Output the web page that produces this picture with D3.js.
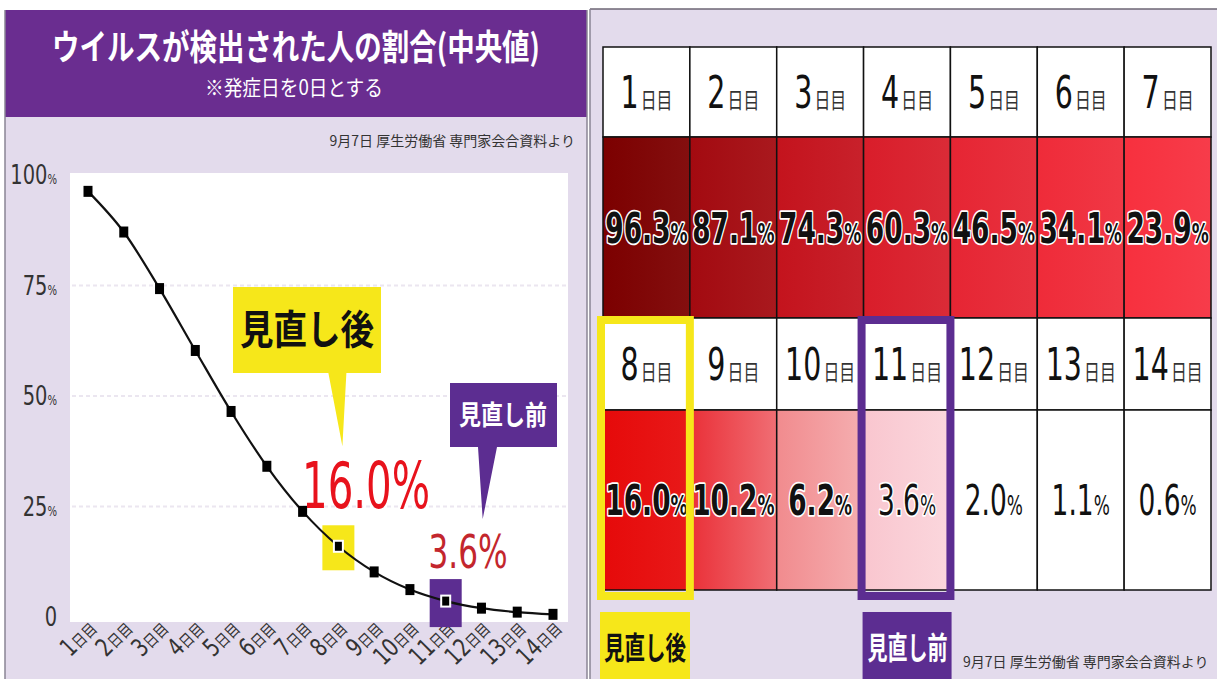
<!DOCTYPE html>
<html>
<head>
<meta charset="utf-8">
<script src="https://cdn.jsdelivr.net/npm/d3@7"></script>
<style>
body { margin: 0; background: #fff; }
svg { display: block; }
</style>
</head>
<body>
<div id="chart"></div>
<script>
// data
const days = [1, 2, 3, 4, 5, 6, 7, 8, 9, 10, 11, 12, 13, 14]
const rates = [96.3, 87.1, 74.3, 60.3, 46.5, 34.1, 23.9, 16.0, 10.2, 6.2, 3.6, 2.0, 1.1, 0.6]
const yTicks = [0, 25, 50, 75, 100]
const yTickLabels = ["0", "25", "50", "75", "100"]
const afterDay = 8
const beforeDay = 11
const afterLabel = "見直し後"
const beforeLabel = "見直し前"
const titleText = "ウイルスが検出された人の割合(中央値)"
const subtitleText = "※発症日を0日とする"
const sourceText = "9月7日 厚生労働省 専門家会合資料より"

// cell colour ramp (value -> red)
const colorStops = [0, 2.0, 3.6, 6.2, 10.2, 16.0, 23.9, 34.1, 46.5, 60.3, 74.3, 87.1, 96.3]
const colorRamp = ["#ffffff", "#ffffff", "#f9c6cf", "#f18b8e", "#ea3038", "#e60a0a", "#f7303e", "#ef2b39", "#e62533", "#d91d2a", "#c4131d", "#a30a10", "#7c0000"]

const W = 1217, H = 679
const lavender = "#e3dbec"
const purple = "#6a2d90"
const yellow = "#f6e71a"
const narrow = "'DejaVu Sans Condensed', 'Liberation Sans', sans-serif"
const jp = "'Noto Sans CJK JP', sans-serif"

const svg = d3.select("#chart").append("svg")
    .attr("width", W)
    .attr("height", H)

svg.append("rect").attr("width", W).attr("height", H).attr("fill", "#fff")

// ---------- left panel: line chart ----------
const left = svg.append("g")

left.append("rect").attr("x", 5).attr("y", 10).attr("width", 582).attr("height", H - 10).attr("fill", lavender)
left.append("rect").attr("x", 5).attr("y", 10).attr("width", 582).attr("height", 107).attr("fill", purple)
left.append("line").attr("x1", 5).attr("x2", 5).attr("y1", 10).attr("y2", H).attr("stroke", "#8a8494").attr("stroke-width", 1.5)
left.append("line").attr("x1", 587).attr("x2", 587).attr("y1", 10).attr("y2", H).attr("stroke", "#8a8494").attr("stroke-width", 1.5)

left.append("text").attr("x", 296).attr("y", 60)
    .attr("text-anchor", "middle").attr("fill", "#fff")
    .attr("textLength", 488).attr("lengthAdjust", "spacingAndGlyphs")
    .style("font-family", jp).style("font-weight", "bold").style("font-size", "35px")
    .text(titleText)
left.append("text").attr("x", 294).attr("y", 95)
    .attr("text-anchor", "middle").attr("fill", "#fff")
    .attr("textLength", 178).attr("lengthAdjust", "spacingAndGlyphs")
    .style("font-family", jp).style("font-size", "21px")
    .text(subtitleText)
left.append("text").attr("x", 575).attr("y", 146)
    .attr("text-anchor", "end").attr("fill", "#333")
    .style("font-family", jp).style("font-size", "14px")
    .text(sourceText)

var x = d3.scalePoint().domain(days).range([88, 553])
var y = d3.scaleLinear().domain([0, 100]).range([617, 175])

left.append("rect").attr("x", 70).attr("y", 173).attr("width", 498).attr("height", 449).attr("fill", "#fff")

left.selectAll(".grid")
    .data(yTicks.filter(t => t > 0 && t < 100))
    .enter().append("line")
    .attr("x1", 72).attr("x2", 566)
    .attr("y1", d => y(d)).attr("y2", d => y(d))
    .attr("stroke", "#ebe6f0").attr("stroke-width", 2).attr("stroke-dasharray", "4,3")

// y tick labels (condensed by a horizontal scale)
const yLab = left.selectAll(".ylab")
    .data(yTicks)
    .enter().append("text")
    .attr("transform", d => "translate(57," + (y(d) + 9) + ") scale(0.8,1)")
    .attr("text-anchor", "end").attr("fill", "#333")
    .style("font-family", narrow)
yLab.append("tspan").style("font-size", "27px").text((d, i) => yTickLabels[i])
yLab.append("tspan").style("font-size", "14px").text(d => d == 0 ? "" : "%")

// x tick labels (rotated)
const xLab = left.selectAll(".xlab")
    .data(days)
    .enter().append("text")
    .attr("transform", d => "translate(" + (x(d) + 10) + ",630) rotate(-45) scale(0.85,1)")
    .attr("text-anchor", "end").attr("fill", "#333")
xLab.append("tspan").style("font-family", narrow).style("font-size", "25px").text(d => d)
xLab.append("tspan").style("font-family", jp).style("font-size", "16px").text("日目")

// highlight squares behind markers
const iAfter = days.indexOf(afterDay), iBefore = days.indexOf(beforeDay)
left.append("rect")
    .attr("x", x(afterDay) - 16).attr("y", y(rates[iAfter]) - 21)
    .attr("width", 32).attr("height", 45).attr("fill", yellow)
left.append("rect")
    .attr("x", x(beforeDay) - 16).attr("y", y(rates[iBefore]) - 22)
    .attr("width", 32).attr("height", 48).attr("fill", "#5c2d91")

// curve
const line = d3.line()
    .x((d, i) => x(days[i]))
    .y(d => y(d))
    .curve(d3.curveMonotoneX)
left.append("path").datum(rates)
    .attr("d", line).attr("fill", "none")
    .attr("stroke", "#111").attr("stroke-width", 2.2)

left.selectAll(".marker")
    .data(rates)
    .enter().append("rect")
    .attr("x", (d, i) => x(days[i]) - 4.5)
    .attr("y", d => y(d) - 5.5)
    .attr("width", 9).attr("height", 11)
    .attr("fill", "#000")
    .attr("stroke", (d, i) => (days[i] == afterDay || days[i] == beforeDay) ? "#fff" : "none")
    .attr("stroke-width", 2)

// callout: after revision
const ax = x(afterDay), ay = y(rates[iAfter])
left.append("path")
    .attr("d", "M233,287 H381 V373 H" + (ax + 8) + " L" + (ax + 4) + "," + (ay - 100) + " L" + (ax - 10) + ",373 H233 Z")
    .attr("fill", yellow)
left.append("text").attr("x", 307).attr("y", 344)
    .attr("text-anchor", "middle").attr("fill", "#111")
    .attr("textLength", 134).attr("lengthAdjust", "spacingAndGlyphs")
    .style("font-family", jp).style("font-weight", "bold").style("font-size", "40px")
    .text(afterLabel)
left.append("text").attr("x", 366).attr("y", 508)
    .attr("text-anchor", "middle").attr("fill", "#e8121c")
    .attr("textLength", 128).attr("lengthAdjust", "spacingAndGlyphs")
    .style("font-family", narrow).style("font-size", "64px")
    .text(d3.format(".1f")(rates[iAfter]) + "%")

// callout: before revision
const bx = x(beforeDay), by = y(rates[iBefore])
left.append("path")
    .attr("d", "M450,383 H557 V447 H497 L" + (bx + 37) + "," + (by - 82) + " L478,447 H450 Z")
    .attr("fill", "#5c2d91")
left.append("text").attr("x", 503).attr("y", 425)
    .attr("text-anchor", "middle").attr("fill", "#fff")
    .attr("textLength", 88).attr("lengthAdjust", "spacingAndGlyphs")
    .style("font-family", jp).style("font-weight", "bold").style("font-size", "27px")
    .text(beforeLabel)
left.append("text").attr("x", 468).attr("y", 568)
    .attr("text-anchor", "middle").attr("fill", "#c3262d")
    .attr("textLength", 79).attr("lengthAdjust", "spacingAndGlyphs")
    .style("font-family", narrow).style("font-size", "46px")
    .text(d3.format(".1f")(rates[iBefore]) + "%")

// ---------- right panel: table ----------
const right = svg.append("g")
right.append("rect").attr("x", 590).attr("y", 9).attr("width", W - 590).attr("height", H - 9).attr("fill", lavender)
right.append("line").attr("x1", 590).attr("x2", W).attr("y1", 9).attr("y2", 9).attr("stroke", "#6c6674").attr("stroke-width", 1.5)
right.append("line").attr("x1", 590).attr("x2", 590).attr("y1", 9).attr("y2", H).attr("stroke", "#8a8494").attr("stroke-width", 1.5)

const col = d3.scaleBand().domain(d3.range(7)).range([603, 1211])
const rowTop = [47, 318]
const labelH = [90, 92]
const valueH = [181, 180]
const color = d3.scaleLinear().domain(colorStops).range(colorRamp)

const defs = svg.append("defs")
rates.forEach((v, i) => {
    const c = color(v)
    const g = defs.append("linearGradient").attr("id", "grad" + i)
    g.append("stop").attr("offset", "0%").attr("stop-color", c)
    g.append("stop").attr("offset", "100%").attr("stop-color", d3.interpolateRgb(c, "#fff")(v < 12 ? 0.3 : 0.06))
})

const cells = right.selectAll(".cell")
    .data(days)
    .enter().append("g")
    .attr("transform", (d, i) => "translate(" + col(i % 7) + "," + rowTop[Math.floor(i / 7)] + ")")

cells.append("rect")
    .attr("width", col.bandwidth()).attr("height", (d, i) => labelH[Math.floor(i / 7)])
    .attr("fill", "#fff").attr("stroke", "#111").attr("stroke-width", 1.5)
cells.append("rect")
    .attr("y", (d, i) => labelH[Math.floor(i / 7)])
    .attr("width", col.bandwidth()).attr("height", (d, i) => valueH[Math.floor(i / 7)])
    .attr("fill", (d, i) => "url(#grad" + i + ")").attr("stroke", "#111").attr("stroke-width", 1.5)

const dayLab = cells.append("text")
    .attr("transform", (d, i) => "translate(" + col.bandwidth() / 2 + "," + (labelH[Math.floor(i / 7)] / 2 + 16) + ") scale(0.72,1)")
    .attr("text-anchor", "middle").attr("fill", "#111")
dayLab.append("tspan").style("font-family", narrow).style("font-size", "44px").text(d => d)
dayLab.append("tspan").style("font-family", jp).style("font-size", "22px").attr("dx", 3).attr("fill", "#333").text("日目")

const valLab = cells.append("text")
    .attr("transform", (d, i) => "translate(" + col.bandwidth() / 2 + "," + (labelH[Math.floor(i / 7)] + valueH[Math.floor(i / 7)] / 2 + 15) + ") scale(0.7,1)")
    .attr("text-anchor", "middle").attr("fill", "#111")
    .attr("stroke", (d, i) => rates[i] >= 3 ? "#fff" : "none")
    .attr("stroke-width", 3.5).attr("stroke-linejoin", "round").attr("paint-order", "stroke")
    .style("font-family", narrow)
    .style("font-weight", (d, i) => rates[i] >= 5 ? "bold" : "normal")
valLab.append("tspan").style("font-size", "42px").text((d, i) => d3.format(".1f")(rates[i]))
valLab.append("tspan").style("font-size", "27px").text("%")

// highlight frames
function frame(day, stroke) {
    const i = days.indexOf(day)
    const r = Math.floor(i / 7)
    right.append("rect")
        .attr("x", col(i % 7) - 2).attr("y", rowTop[r] + 2)
        .attr("width", col.bandwidth() + 2).attr("height", labelH[r] + valueH[r] + 4)
        .attr("fill", "none").attr("stroke", stroke).attr("stroke-width", 8)
    return col(i % 7)
}
const fxA = frame(afterDay, yellow)
const fxB = frame(beforeDay, "#5c2d91")

// tags under the table
right.append("rect").attr("x", fxA - 3).attr("y", 612).attr("width", 90).attr("height", H - 612).attr("fill", yellow)
right.append("text").attr("x", fxA + 42).attr("y", 659)
    .attr("text-anchor", "middle").attr("fill", "#111")
    .attr("textLength", 82).attr("lengthAdjust", "spacingAndGlyphs")
    .style("font-family", jp).style("font-weight", "bold").style("font-size", "31px")
    .text(afterLabel)
right.append("rect").attr("x", fxB - 1).attr("y", 612).attr("width", 89).attr("height", H - 612).attr("fill", "#5c2d91")
right.append("text").attr("x", fxB + 44).attr("y", 659)
    .attr("text-anchor", "middle").attr("fill", "#fff")
    .attr("textLength", 80).attr("lengthAdjust", "spacingAndGlyphs")
    .style("font-family", jp).style("font-weight", "bold").style("font-size", "31px")
    .text(beforeLabel)
right.append("text").attr("x", 963).attr("y", 667)
    .attr("fill", "#333")
    .style("font-family", jp).style("font-size", "14px")
    .text(sourceText)
</script>
</body>
</html>
